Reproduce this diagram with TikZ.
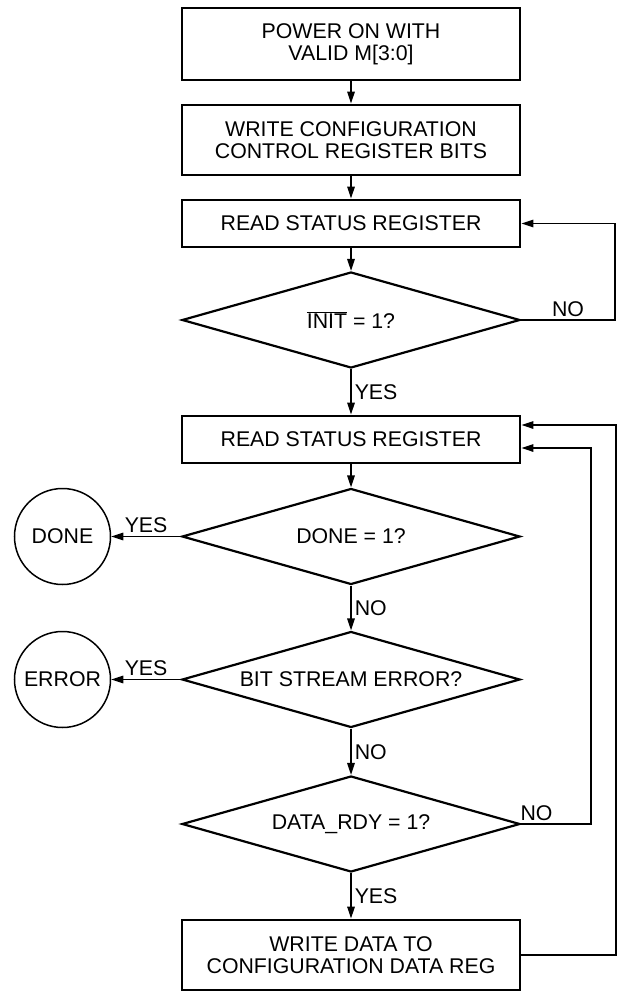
\documentclass[tikz,border=0pt]{standalone}
\usepackage{fontspec}
\setmainfont{Liberation Sans}
\usetikzlibrary{shapes.geometric,arrows.meta}
\begin{document}
\begin{tikzpicture}[x=1pt, y=-1pt,
    every node/.style={font=\fontsize{21.3}{22}\selectfont, inner sep=3pt},
    stepbox/.style={draw, line width=2.8pt, minimum width=338pt, align=center, inner sep=0pt},
    test/.style={draw, diamond, shape aspect=3.5, line width=2.2pt, minimum width=338pt, minimum height=96pt, inner sep=0pt},
    stop/.style={draw, circle, line width=1.5pt, minimum size=96pt, inner sep=0pt},
    arr/.style={line width=1.5pt, -{Triangle[length=12pt,width=7.5pt]}}]
  \useasboundingbox (0,0) rectangle (621,992);

  % Boxes
  \node[stepbox, minimum height=72pt] (pon) at (351,44) {POWER ON WITH\\VALID M[3:0]};
  \node[stepbox, minimum height=70pt] (wcfg) at (351,140) {WRITE CONFIGURATION\\CONTROL REGISTER BITS};
  \node[stepbox, minimum height=47pt] (rd1) at (351,223.5) {READ STATUS REGISTER};
  \node[stepbox, minimum height=47pt] (rd2) at (351,439.5) {READ STATUS REGISTER};
  \node[stepbox, minimum height=70pt] (wdat) at (351,955) {WRITE DATA TO\\CONFIGURATION DATA REG};

  % Tests
  \node[test] (qinit) at (351,320) {$\overline{\hbox{INIT}}$ = 1?};
  \node[test] (qdone) at (351,536.5) {DONE = 1?};
  \node[test] (qerr) at (351,679.5) {BIT STREAM ERROR?};
  \node[test] (qrdy) at (351,824) {DATA\_RDY = 1?};

  % End states
  \node[stop] (done) at (62.5,536.5) {DONE};
  \node[stop] (err) at (62.5,679.5) {ERROR};

  % Loop corners
  \coordinate (c1) at (615,320);
  \coordinate (c2) at (591,824);
  \coordinate (c3) at (616,955);

  % Flow
  \draw[arr] (pon) -- (wcfg);
  \draw[arr] (wcfg) -- (rd1);
  \draw[arr] (rd1) -- (qinit);
  \draw[arr] (qinit.east) -- node[above] {NO} (c1) |- (rd1.east);
  \draw[arr] (qinit.south) -- node[right] {YES} (rd2.north);
  \draw[arr] (rd2) -- (qdone);
  \draw[arr] (qdone.west) -- node[above] {YES} (done);
  \draw[arr] (qdone.south) -- node[right] {NO} (qerr.north);
  \draw[arr] (qerr.west) -- node[above] {YES} (err);
  \draw[arr] (qerr.south) -- node[right] {NO} (qrdy.north);
  \draw[arr] (qrdy.east) -- node[above, pos=0.22] {NO} (c2) |- ([yshift=-8.5pt]rd2.east);
  \draw[arr] (qrdy.south) -- node[right] {YES} (wdat.north);
  \draw[arr] (wdat.east) -- (c3) |- ([yshift=14.5pt]rd2.east);
\end{tikzpicture}
\end{document}
